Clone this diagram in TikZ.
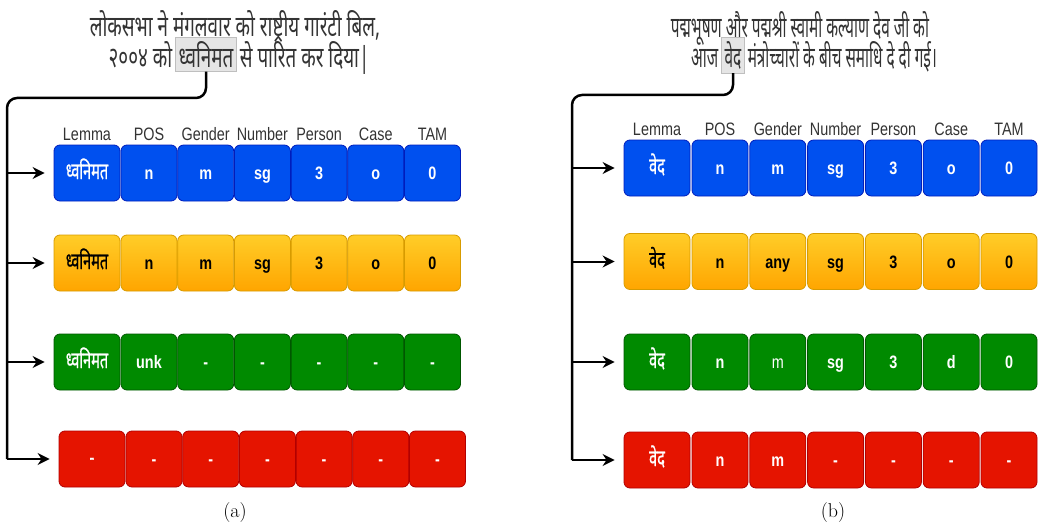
\documentclass[tikz,border=0pt]{standalone}
\usepackage{fontspec}
\usetikzlibrary{positioning}
\usetikzlibrary{arrows.meta}
\usetikzlibrary{calc}
\newfontfamily\sentafont[Script=Devanagari,FakeStretch=0.65]{Noto Sans}
\newfontfamily\sentbfont[Script=Devanagari,FakeStretch=0.53]{Noto Sans}
\newfontfamily\lemfont[Script=Devanagari,FakeStretch=0.63,FakeBold=0.8]{Noto Sans}
\newfontfamily\hdrfont[FakeStretch=0.8]{Liberation Sans}
\definecolor{cblue}{HTML}{0050EF}
\definecolor{cbluedk}{HTML}{001DBC}
\definecolor{corangetop}{HTML}{FFCD28}
\definecolor{corangebot}{HTML}{FFA500}
\definecolor{corangedk}{HTML}{D79B00}
\definecolor{cgreen}{HTML}{008A00}
\definecolor{cgreendk}{HTML}{005700}
\definecolor{cred}{HTML}{E51400}
\definecolor{creddk}{HTML}{B20000}
\definecolor{txtgray}{HTML}{333333}
\tikzset{
 sent/.style={inner sep=0pt, text=txtgray, font=\sentafont\fontsize{29}{30}\selectfont},
 sentb/.style={sent, font=\sentbfont\fontsize{29}{30}\selectfont},
 hl/.style={fill=black!10, draw=black!25, inner xsep=3pt, inner ysep=4pt},
 hdr/.style={inner sep=1pt, text=txtgray, font=\hdrfont\fontsize{18}{20}\selectfont},
 cell/.style={rounded corners=6pt, minimum height=56pt, minimum width=56pt, inner sep=0pt,
   text height=13pt, text depth=0pt,
   line width=0.8pt, font=\hdrfont\bfseries\fontsize{18}{20}\selectfont},
 lemmacell/.style={minimum width=66pt, text height=12pt, font=\lemfont\fontsize{23}{24}\selectfont},
 bluecell/.style={fill=cblue, draw=cbluedk, text=white},
 orangecell/.style={top color=corangetop, bottom color=corangebot, draw=corangedk, text=black},
 greencell/.style={fill=cgreen, draw=cgreendk, text=white},
 redcell/.style={fill=cred, draw=creddk, text=white},
 trunk/.style={line width=2.5pt, rounded corners=10pt},
 branch/.style={line width=2pt, ->, shorten >=9pt},
 caption/.style={font=\fontsize{20}{24}\selectfont}
}
\begin{document}
\begin{tikzpicture}[x=1pt,y=-1pt, >={Stealth[length=12pt,width=12pt]}]
\useasboundingbox (0,0) rectangle (1042,527);

\node[sent, anchor=base] (a-l1) at (235,37) {लोकसभा ने मंगलवार को राष्ट्रीय गारंटी बिल,};
\node[sent, hl, anchor=base] (a-hl) at (206,67) {ध्वनिमत};
\node[sent, anchor=base east] (a-pre) at ([xshift=-3pt]a-hl.base west) {२००४ को};
\node[sent, anchor=base west] (a-post) at ([xshift=3pt]a-hl.base east) {से पारित कर दिया|};

\foreach \r/\y/\dx/\sty/\lem/\vals in {
 1/173/0/bluecell/ध्वनिमत/{n,m,sg,3,o,0},
 2/263/0/orangecell/ध्वनिमत/{n,m,sg,3,o,0},
 3/362/0/greencell/ध्वनिमत/{unk,-,-,-,-,-},
 4/459/5/redcell/-/{-,-,-,-,-,-}}{
 \node[cell, lemmacell, \sty] (a\r-0) at (87+\dx,\y) {\lem};
 \foreach \v [count=\i] in \vals
  \node[cell, \sty] (a\r-\i) at ({149+\dx+56.7*(\i-1)},\y) {\v};
}
\node[hdr, above=3pt of a1-0] {Lemma};
\foreach \h [count=\i] in {POS,Gender,Number,Person,Case,TAM}
 \node[hdr, above=3pt of a1-\i] {\h};

\coordinate (a-bend) at (7,98);
\draw[trunk] (a-hl.south) |- (a-bend) -- (a-bend |- a4-0.west);
\foreach \r in {1,...,4}
 \draw[branch] (a-bend |- a\r-0.west) -- (a\r-0.west);
\node[caption] (a-cap) at (235,513) {(a)};

\node[sentb, anchor=base] (b-l1) at (800,38) {पद्मभूषण और पद्मश्री स्वामी कल्याण देव जी को};
\node[sentb, hl, anchor=base] (b-hl) at (733,67) {वेद};
\node[sentb, anchor=base east] (b-pre) at ([xshift=-3pt]b-hl.base west) {आज};
\node[sentb, anchor=base west] (b-post) at ([xshift=3pt]b-hl.base east) {मंत्रोच्चारों के बीच समाधि दे दी गई।};

\foreach \r/\y/\sty/\vals in {
 1/168/bluecell/{n,m,sg,3,o,0},
 2/261.5/orangecell/{n,any,sg,3,o,0},
 3/362/greencell/{n,{\mdseries m},sg,3,d,0},
 4/460/redcell/{n,m,-,-,-,-}}{
 \node[cell, lemmacell, \sty] (b\r-0) at (657,\y) {वेद};
 \foreach \v [count=\i] in \vals
  \node[cell, \sty] (b\r-\i) at ({720+57.8*(\i-1)},\y) {\v};
}
\node[hdr, above=3pt of b1-0] {Lemma};
\foreach \h [count=\i] in {POS,Gender,Number,Person,Case,TAM}
 \node[hdr, above=3pt of b1-\i] {\h};

\coordinate (b-bend) at (572,95);
\draw[trunk] (b-hl.south) |- (b-bend) -- (b-bend |- b4-0.west);
\foreach \r in {1,...,4}
 \draw[branch] (b-bend |- b\r-0.west) -- (b\r-0.west);
\node[caption] (b-cap) at (833,513) {(b)};
\end{tikzpicture}
\end{document}
